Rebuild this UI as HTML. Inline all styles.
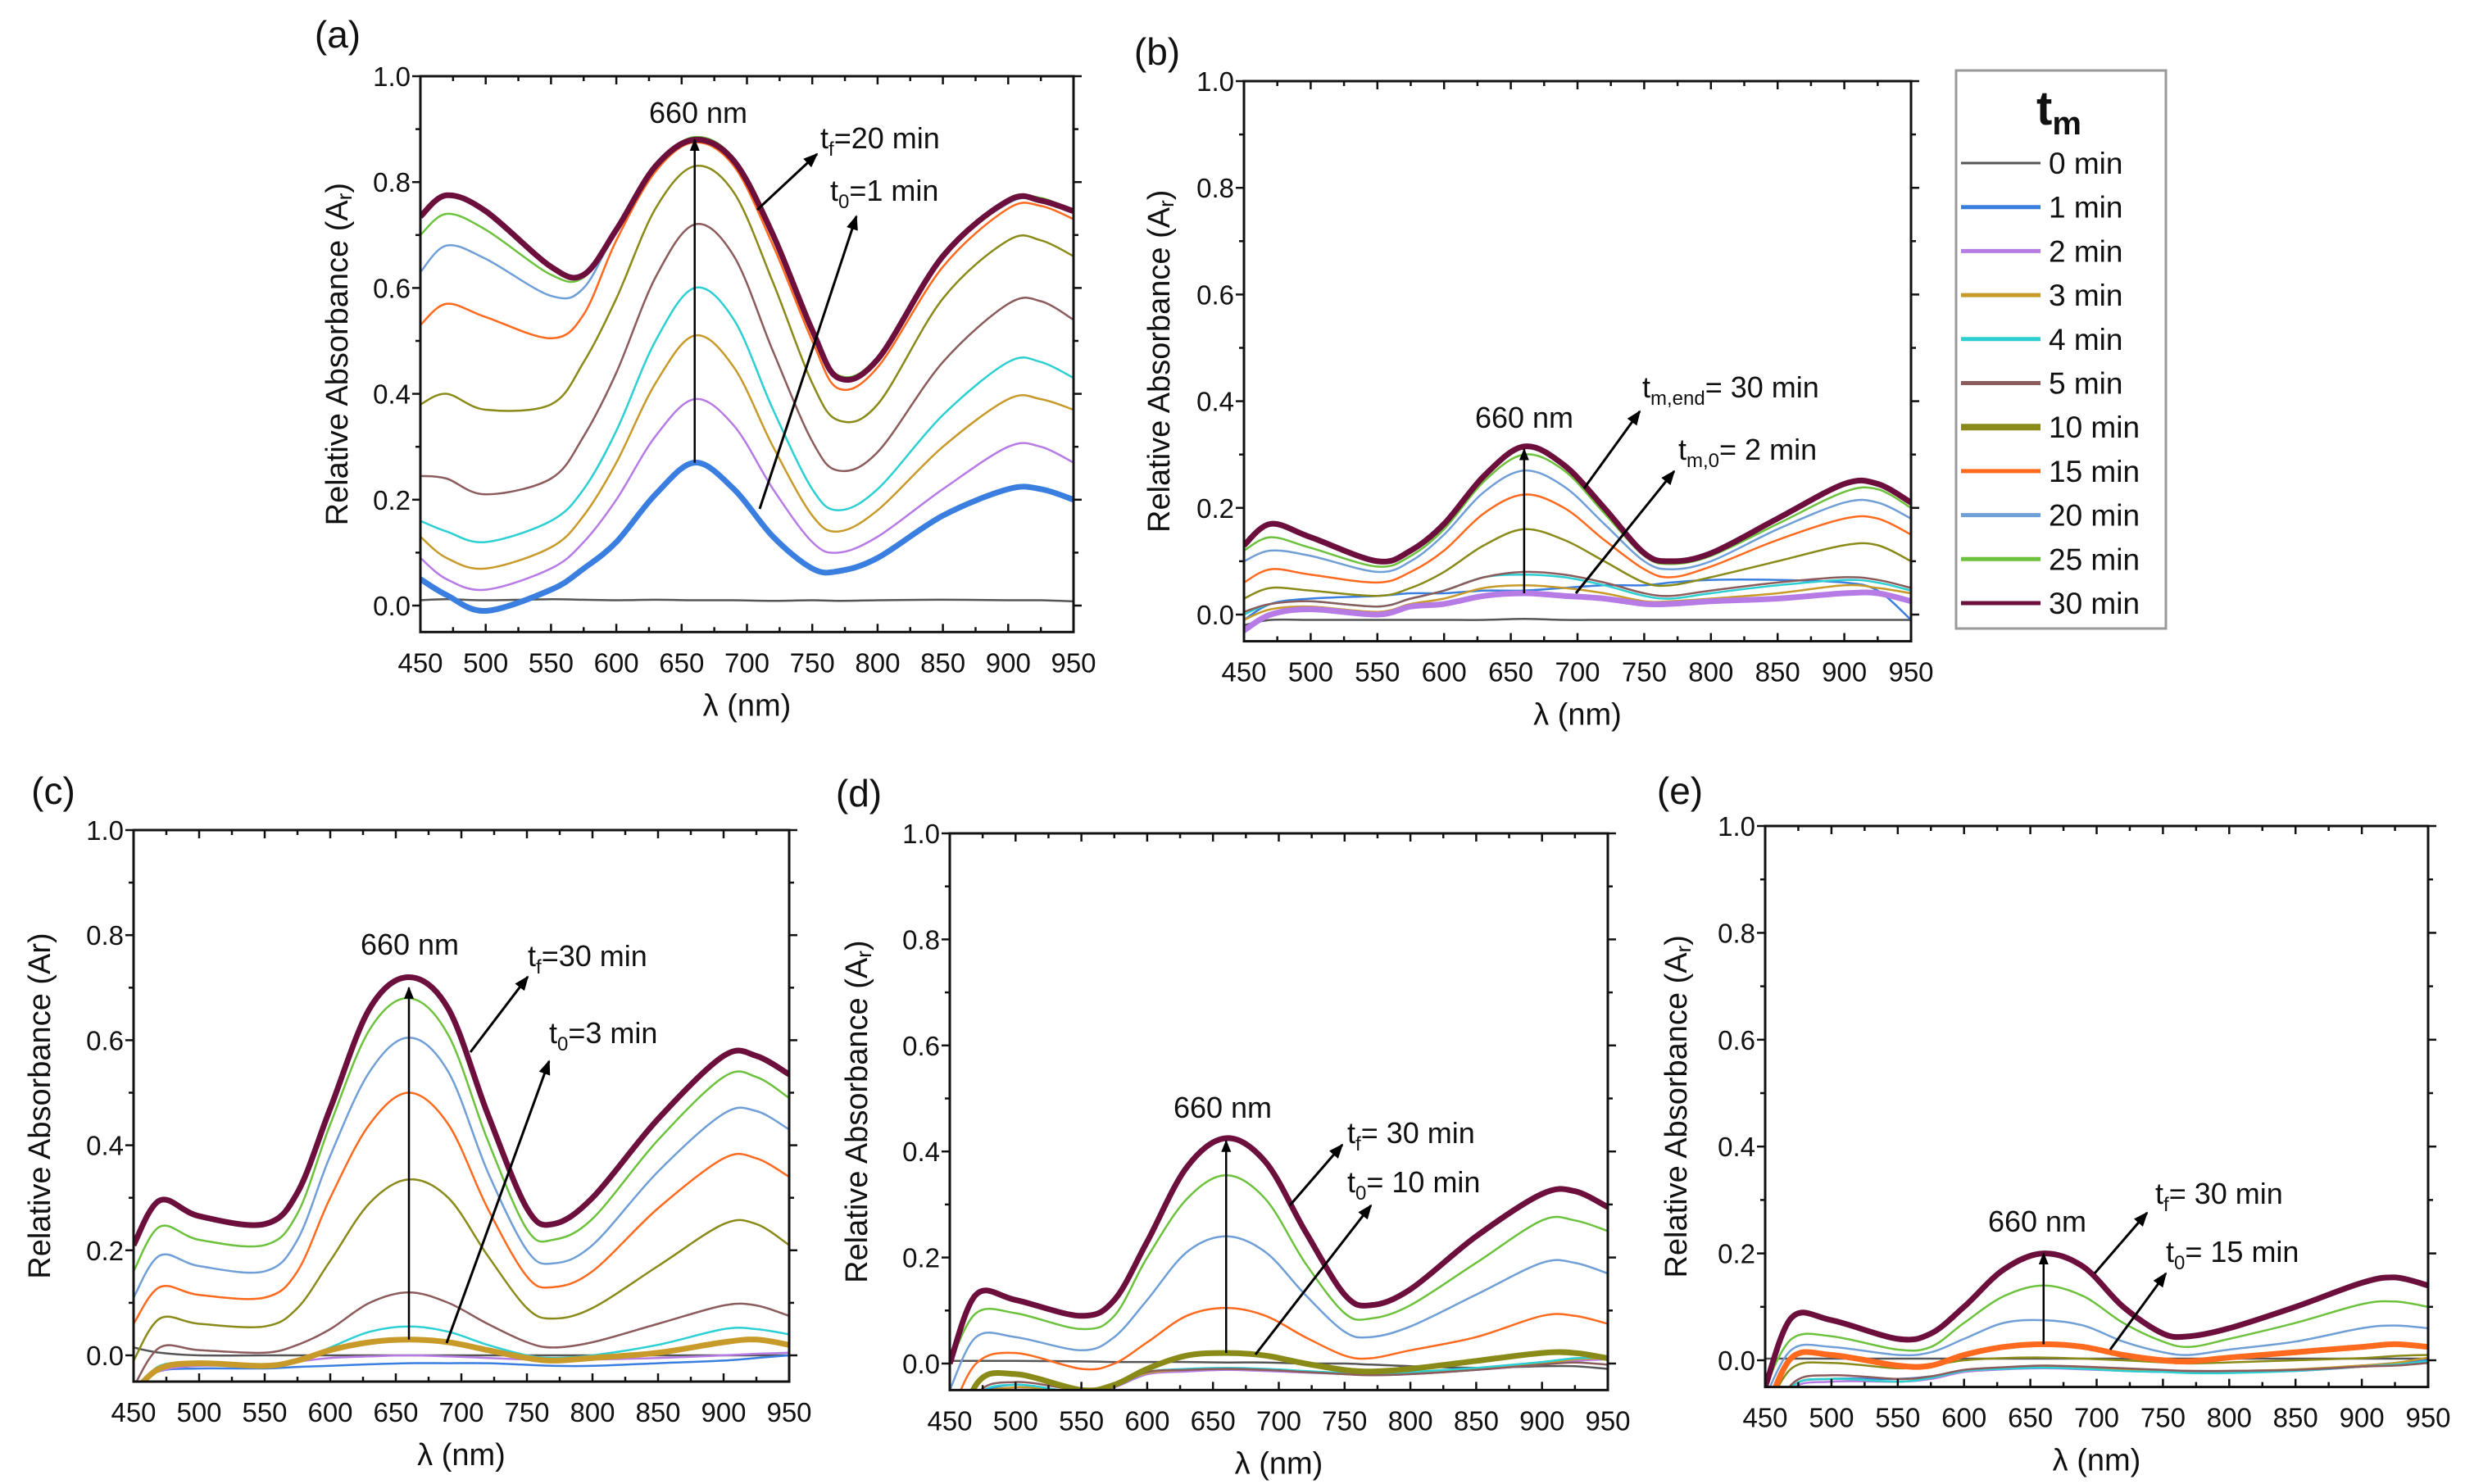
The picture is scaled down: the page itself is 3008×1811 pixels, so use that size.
<!DOCTYPE html>
<html><head><meta charset="utf-8"><style>
html,body{margin:0;padding:0;background:#fff;}
svg{display:block;font-family:"Liberation Sans",Arial,sans-serif;}
</style></head><body>
<svg id="fig" width="3008" height="1811" viewBox="0 0 3008 1811" xmlns="http://www.w3.org/2000/svg">
<defs><marker id="ah" viewBox="0 0 10 10" refX="9" refY="5" markerWidth="6" markerHeight="6" orient="auto"><path d="M0,1 L10,5 L0,9 z" fill="#000"/></marker></defs>
</svg>
<script>
const wavelengths=[450,470,500,550,575,600,630,660,690,720,750,770,800,850,900,925,950];
const seriesLabels=["0 min","1 min","2 min","3 min","4 min","5 min","10 min","15 min","20 min","25 min","30 min"];
const seriesColors=["#555555","#3a7fe0","#b77be6","#c89a2a","#2ccfd2","#8c5b5b","#8a8a18","#ff6a1e","#6f9fd6","#6cc23c","#6c0f3c"];
const xTicks=[450,500,550,600,650,700,750,800,850,900,950];
const yTicks=[0.0,0.2,0.4,0.6,0.8,1.0];
const yTickLabels=["0.0","0.2","0.4","0.6","0.8","1.0"];

const panelA=[
[0.01,0.012,0.01,0.012,0.011,0.01,0.011,0.01,0.01,0.009,0.01,0.009,0.01,0.011,0.01,0.01,0.008],
[0.05,0.02,-0.01,0.03,0.07,0.12,0.21,0.27,0.22,0.13,0.07,0.065,0.09,0.17,0.22,0.22,0.20],
[0.09,0.05,0.03,0.07,0.12,0.20,0.32,0.39,0.34,0.22,0.12,0.10,0.13,0.22,0.30,0.30,0.27],
[0.13,0.09,0.07,0.11,0.17,0.27,0.42,0.51,0.45,0.30,0.17,0.14,0.18,0.30,0.39,0.39,0.37],
[0.16,0.14,0.12,0.16,0.22,0.33,0.50,0.60,0.54,0.37,0.22,0.18,0.22,0.36,0.46,0.46,0.43],
[0.245,0.24,0.21,0.24,0.32,0.44,0.62,0.72,0.66,0.48,0.31,0.255,0.29,0.46,0.57,0.575,0.54],
[0.38,0.40,0.37,0.38,0.46,0.58,0.75,0.83,0.78,0.61,0.42,0.35,0.38,0.58,0.69,0.69,0.66],
[0.53,0.57,0.545,0.505,0.55,0.69,0.82,0.875,0.83,0.68,0.50,0.41,0.45,0.64,0.75,0.755,0.73],
[0.63,0.68,0.655,0.585,0.60,0.71,0.83,0.88,0.84,0.70,0.52,0.43,0.47,0.66,0.76,0.765,0.745],
[0.70,0.74,0.71,0.625,0.62,0.71,0.83,0.885,0.845,0.705,0.525,0.435,0.47,0.665,0.765,0.77,0.745],
[0.735,0.775,0.745,0.64,0.625,0.71,0.83,0.88,0.84,0.70,0.52,0.43,0.465,0.66,0.765,0.765,0.745]];
const panelB=[
[-0.02,-0.01,-0.01,-0.01,-0.01,-0.01,-0.01,-0.008,-0.01,-0.01,-0.01,-0.01,-0.01,-0.01,-0.01,-0.01,-0.01],
[-0.01,0.02,0.03,0.035,0.04,0.04,0.045,0.045,0.05,0.055,0.055,0.06,0.065,0.065,0.06,0.045,-0.01],
[-0.03,0.0,0.01,0.0,0.015,0.02,0.035,0.04,0.035,0.03,0.02,0.02,0.025,0.03,0.04,0.04,0.025],
[-0.01,0.01,0.015,0.005,0.02,0.03,0.05,0.055,0.05,0.04,0.025,0.025,0.03,0.04,0.055,0.05,0.04],
[0.0,0.02,0.025,0.015,0.03,0.045,0.07,0.075,0.07,0.055,0.035,0.03,0.04,0.055,0.065,0.06,0.045],
[0.005,0.02,0.025,0.015,0.03,0.045,0.07,0.08,0.075,0.06,0.04,0.035,0.045,0.06,0.07,0.065,0.05],
[0.03,0.05,0.045,0.035,0.05,0.08,0.13,0.16,0.14,0.10,0.06,0.055,0.07,0.10,0.13,0.13,0.10],
[0.06,0.085,0.075,0.06,0.08,0.12,0.19,0.225,0.20,0.14,0.085,0.07,0.09,0.14,0.18,0.18,0.15],
[0.10,0.12,0.11,0.08,0.10,0.15,0.23,0.27,0.24,0.17,0.10,0.085,0.10,0.16,0.21,0.21,0.18],
[0.12,0.145,0.125,0.09,0.11,0.16,0.25,0.30,0.27,0.19,0.11,0.095,0.11,0.17,0.23,0.235,0.20],
[0.13,0.17,0.145,0.10,0.12,0.17,0.26,0.315,0.28,0.20,0.115,0.10,0.115,0.18,0.245,0.245,0.21]];
const panelC=[
[0.015,0.005,0.0,0.0,0.0,0.0,0.0,0.0,0.0,0.0,0.0,0.0,0.0,0.0,0.0,0.0,0.0],
[-0.06,-0.03,-0.025,-0.025,-0.022,-0.02,-0.017,-0.015,-0.015,-0.015,-0.018,-0.02,-0.02,-0.015,-0.01,-0.005,0.0],
[-0.06,-0.03,-0.02,-0.02,-0.012,-0.005,-0.002,0.0,-0.002,-0.005,-0.008,-0.01,-0.008,-0.005,0.0,0.003,0.005],
[-0.07,-0.025,-0.015,-0.02,-0.01,0.01,0.025,0.03,0.025,0.01,-0.005,-0.01,-0.005,0.005,0.025,0.03,0.02],
[-0.07,-0.02,-0.015,-0.02,-0.01,0.015,0.045,0.055,0.045,0.02,0.0,-0.005,0.0,0.02,0.05,0.05,0.04],
[-0.06,0.015,0.01,0.005,0.02,0.05,0.10,0.12,0.10,0.06,0.025,0.015,0.025,0.06,0.095,0.095,0.075],
[-0.01,0.07,0.06,0.055,0.09,0.18,0.29,0.335,0.30,0.19,0.09,0.07,0.09,0.17,0.25,0.25,0.21],
[0.06,0.13,0.115,0.11,0.16,0.30,0.44,0.50,0.44,0.28,0.15,0.13,0.16,0.28,0.375,0.375,0.34],
[0.11,0.19,0.17,0.16,0.22,0.38,0.54,0.605,0.54,0.35,0.20,0.175,0.21,0.35,0.46,0.465,0.43],
[0.16,0.245,0.22,0.21,0.27,0.44,0.62,0.68,0.61,0.41,0.24,0.22,0.26,0.41,0.53,0.53,0.49],
[0.21,0.295,0.265,0.25,0.31,0.47,0.66,0.72,0.66,0.46,0.28,0.25,0.30,0.45,0.57,0.57,0.535]];
const panelD=[
[0.005,0.005,0.005,0.004,0.003,0.003,0.003,0.002,0.002,0.0,0.0,-0.002,-0.005,-0.008,-0.005,-0.005,-0.01],
[-0.2,-0.07,-0.04,-0.06,-0.045,-0.02,-0.012,-0.01,-0.012,-0.015,-0.018,-0.02,-0.018,-0.01,0.0,0.005,0.01],
[-0.2,-0.08,-0.05,-0.06,-0.045,-0.02,-0.015,-0.012,-0.014,-0.017,-0.02,-0.022,-0.02,-0.012,-0.002,0.005,0.008],
[-0.2,-0.07,-0.045,-0.055,-0.04,-0.018,-0.012,-0.01,-0.012,-0.015,-0.02,-0.02,-0.018,-0.01,0.0,0.008,0.01],
[-0.2,-0.065,-0.04,-0.055,-0.04,-0.016,-0.01,-0.008,-0.01,-0.014,-0.018,-0.02,-0.016,-0.008,0.003,0.01,0.012],
[-0.2,-0.06,-0.035,-0.05,-0.04,-0.016,-0.012,-0.01,-0.012,-0.016,-0.02,-0.022,-0.02,-0.012,-0.002,0.002,-0.002],
[-0.2,-0.04,-0.02,-0.05,-0.04,-0.01,0.015,0.02,0.015,0.0,-0.012,-0.015,-0.01,0.005,0.02,0.02,0.01],
[-0.1,0.0,0.02,-0.01,0.0,0.04,0.09,0.105,0.09,0.05,0.015,0.01,0.025,0.05,0.09,0.09,0.075],
[-0.05,0.05,0.05,0.025,0.05,0.12,0.21,0.24,0.21,0.13,0.06,0.05,0.07,0.13,0.19,0.19,0.17],
[0.0,0.095,0.095,0.065,0.09,0.20,0.31,0.355,0.31,0.19,0.095,0.085,0.11,0.19,0.27,0.27,0.25],
[0.0,0.13,0.12,0.09,0.12,0.23,0.37,0.425,0.38,0.25,0.13,0.11,0.14,0.24,0.32,0.325,0.295]];
const panelE=[
[0.003,0.003,0.003,0.003,0.003,0.003,0.003,0.003,0.003,0.003,0.003,0.003,0.003,0.003,0.003,0.003,0.003],
[-0.15,-0.05,-0.035,-0.035,-0.03,-0.02,-0.015,-0.012,-0.014,-0.018,-0.02,-0.02,-0.02,-0.018,-0.01,-0.005,0.0],
[-0.15,-0.055,-0.04,-0.04,-0.035,-0.022,-0.017,-0.015,-0.017,-0.02,-0.022,-0.022,-0.022,-0.02,-0.012,-0.008,-0.003],
[-0.15,-0.05,-0.035,-0.04,-0.032,-0.02,-0.015,-0.013,-0.015,-0.018,-0.02,-0.02,-0.02,-0.017,-0.01,-0.005,0.005],
[-0.15,-0.05,-0.035,-0.04,-0.033,-0.02,-0.016,-0.014,-0.016,-0.02,-0.022,-0.024,-0.024,-0.02,-0.012,-0.008,-0.002],
[-0.15,-0.045,-0.028,-0.035,-0.03,-0.018,-0.013,-0.01,-0.012,-0.015,-0.018,-0.02,-0.02,-0.018,-0.012,-0.01,-0.005],
[-0.1,-0.015,-0.005,-0.015,-0.01,0.0,0.004,0.005,0.003,0.0,-0.004,-0.006,-0.004,0.0,0.004,0.008,0.01],
[-0.1,0.005,0.01,-0.01,-0.01,0.01,0.025,0.03,0.025,0.01,0.0,-0.002,0.005,0.015,0.025,0.03,0.025],
[-0.07,0.02,0.025,0.01,0.015,0.04,0.07,0.075,0.065,0.035,0.015,0.01,0.02,0.035,0.06,0.065,0.06],
[-0.05,0.04,0.045,0.02,0.025,0.07,0.12,0.14,0.12,0.07,0.035,0.025,0.04,0.07,0.105,0.11,0.10],
[-0.05,0.08,0.075,0.04,0.05,0.10,0.17,0.20,0.175,0.10,0.05,0.045,0.06,0.10,0.145,0.155,0.14]];

const NS="http://www.w3.org/2000/svg";
const svg=document.getElementById('fig');
function mk(tag,attrs,parent){const e=document.createElementNS(NS,tag);for(const k in attrs)e.setAttribute(k,attrs[k]);(parent||svg).appendChild(e);return e;}

const panels=[
 {id:'a',data:panelA,L:513,R:1310,T:93,Z:739,thick:[1,10],lab:[412,42],ytx:414,
  yt:"Relative Absorbance (A",ysub:"r",arrows:[[924,256,997,188],[927,621,1045,264]],
  vline:[0.27,0.88],t660:[852,138],tf:[1001,169,"f","=20 min"],t0:[1013,233,"0","=1 min"]},
 {id:'b',data:panelB,L:1518,R:2332,T:99,Z:750,thick:[2,10],lab:[1412,63],ytx:1417,
  yt:"Relative Absorbance (A",ysub:"r",arrows:[[1933,596,2001,502],[1923,724,2043,575]],
  vline:[0.04,0.31],t660:[1860,510],tf:[2004,473,"m,end","= 30 min"],t0:[2048,549,"m,0","= 2 min"]},
 {id:'c',data:panelC,L:163,R:963,T:1013,Z:1654,thick:[3,10],lab:[65,965],ytx:51,
  yt:"Relative Absorbance (Ar)",ysub:"",arrows:[[574,1284,644,1192],[545,1639,670,1295]],
  vline:[0.03,0.70],t660:[500,1153],tf:[644,1167,"f","=30 min"],t0:[670,1261,"0","=3 min"]},
 {id:'d',data:panelD,L:1159,R:1962,T:1017,Z:1664,thick:[6,10],lab:[1048,968],ytx:1048,
  yt:"Relative Absorbance (A",ysub:"r",arrows:[[1574,1471,1638,1397],[1532,1653,1673,1471]],
  vline:[0.02,0.42],t660:[1492,1352],tf:[1644,1383,"f","= 30 min"],t0:[1644,1443,"0","= 10 min"]},
 {id:'e',data:panelE,L:2154,R:2963,T:1008,Z:1660,thick:[7,10],lab:[2050,965],ytx:2048,
  yt:"Relative Absorbance (A",ysub:"r",arrows:[[2556,1554,2620,1480],[2575,1647,2643,1554]],
  vline:[0.03,0.20],t660:[2486,1491],tf:[2630,1457,"f","= 30 min"],t0:[2643,1528,"0","= 15 min"]}
];

function spline(pts){
 let d="M"+pts[0][0].toFixed(1)+","+pts[0][1].toFixed(1);
 for(let i=0;i<pts.length-1;i++){
  const p0=pts[Math.max(0,i-1)],p1=pts[i],p2=pts[i+1],p3=pts[Math.min(pts.length-1,i+2)];
  const c1=[p1[0]+(p2[0]-p0[0])/6,p1[1]+(p2[1]-p0[1])/6];
  const c2=[p2[0]-(p3[0]-p1[0])/6,p2[1]-(p3[1]-p1[1])/6];
  d+=" C"+c1[0].toFixed(1)+","+c1[1].toFixed(1)+" "+c2[0].toFixed(1)+","+c2[1].toFixed(1)+" "+p2[0].toFixed(1)+","+p2[1].toFixed(1);
 }
 return d;
}

panels.forEach(p=>{
 const g=mk('g',{});
 
 
 const unit=p.Z-p.T;
 const B=p.Z+0.05*unit;
 const xs=v=>p.L+(v-450)/500*(p.R-p.L);
 const ys=v=>p.Z-v*unit;
 const cp=mk('clipPath',{id:'clip'+p.id},g);
 mk('rect',{x:p.L,y:p.T,width:p.R-p.L,height:B-p.T},cp);
 const order=[];
 for(let i=0;i<p.data.length;i++) if(!p.thick.includes(i)) order.push(i);
 p.thick.forEach(i=>order.push(i));
 const sg=mk('g',{'clip-path':'url(#clip'+p.id+')'},g);
 order.forEach(i=>{
  const pts=wavelengths.map((w,k)=>[xs(w),ys(p.data[i][k])]);
  const path=mk('path',{d:spline(pts),fill:'none',stroke:seriesColors[i],'stroke-width':p.thick.includes(i)?7:2.5,'stroke-linejoin':'round'},sg);
  
  
 });
 const fr=mk('rect',{x:p.L,y:p.T,width:p.R-p.L,height:B-p.T,fill:'none',stroke:'#111','stroke-width':3},g);
 
 
 for(let v=450;v<=950;v+=25){
  const x=xs(v),len=(v%50===0)?10:6;
  mk('line',{x1:x,y1:B,x2:x,y2:B-len,stroke:'#111','stroke-width':2.5},g);
  mk('line',{x1:x,y1:p.T,x2:x,y2:p.T+len,stroke:'#111','stroke-width':2.5},g);
 }
 xTicks.forEach(v=>{
  const t=mk('text',{x:xs(v),y:B+49,'font-size':33,'text-anchor':'middle',fill:'#111'},g);
  t.textContent=v;
  
  
 });
 for(let k=0;k<=10;k++){
  const v=k/10,y=ys(v),len=(k%2===0)?10:6;
  mk('line',{x1:p.L,y1:y,x2:p.L-len,y2:y,stroke:'#111','stroke-width':2.5},g);
  mk('line',{x1:p.R,y1:y,x2:p.R+len,y2:y,stroke:'#111','stroke-width':2.5},g);
 }
 yTicks.forEach((v,k)=>{
  const t=mk('text',{x:p.L-12,y:ys(v)+12,'font-size':33,'text-anchor':'end',fill:'#111'},g);
  t.textContent=yTickLabels[k];
  
  
 });
 const xt=mk('text',{x:(p.L+p.R)/2,y:B+102,'font-size':38,'text-anchor':'middle',fill:'#111'},g);
 xt.textContent="λ (nm)";
 
 
 const yc=(p.T+B)/2;
 const yt=mk('text',{x:p.ytx,y:yc,'font-size':38,'text-anchor':'middle','dominant-baseline':'middle',fill:'#111',transform:'rotate(-90 '+p.ytx+' '+yc+')'},g);
 
 
 if(p.ysub){
  const a=mk('tspan',{},yt);a.textContent=p.yt;
  const s=mk('tspan',{'font-size':26,dy:8},yt);s.textContent=p.ysub;
  const c=mk('tspan',{dy:-8},yt);c.textContent=")";
 } else yt.textContent=p.yt;
 const pl=mk('text',{x:p.lab[0],y:p.lab[1]+16,'font-size':46,'text-anchor':'middle',fill:'#111'},g);
 pl.textContent="("+p.id+")";
 
 
 const va=mk('line',{x1:xs(660),y1:ys(p.vline[0]),x2:xs(660),y2:ys(p.vline[1]),stroke:'#000','stroke-width':2.5,'marker-end':'url(#ah)'},g);
 
 
 p.arrows.forEach(a=>{
  const l=mk('line',{x1:a[0],y1:a[1],x2:a[2],y2:a[3],stroke:'#000','stroke-width':3,'marker-end':'url(#ah)'},g);
  
  
 });
 const t6=mk('text',{x:p.t660[0],y:p.t660[1]+12,'font-size':36,'text-anchor':'middle',fill:'#111'},g);
 t6.textContent="660 nm";
 
 
 [p.tf,p.t0].forEach((a,idx)=>{
  const t=mk('text',{x:a[0],y:a[1]+12,'font-size':36,fill:'#111'},g);
  
  
  const t1=mk('tspan',{},t);t1.textContent="t";
  const t2=mk('tspan',{'font-size':24,dy:9},t);t2.textContent=a[2];
  const t3=mk('tspan',{dy:-9},t);t3.textContent=a[3];
 });
});

const lg=mk('g',{});


mk('rect',{x:2387,y:86,width:256,height:681,fill:'#fff',stroke:'#9a9a9a','stroke-width':3},lg);
const lt=mk('text',{x:2485,y:152,'font-size':58,'font-weight':'bold',fill:'#111'},lg);


const l1=mk('tspan',{},lt);l1.textContent="t";
const l2=mk('tspan',{'font-size':40,dy:12},lt);l2.textContent="m";
seriesLabels.forEach((s,i)=>{
 const y=199+i*53.7;
 const ln=mk('line',{x1:2393,y1:y,x2:2490,y2:y,stroke:seriesColors[i],'stroke-width':(i===6)?8:(i===0?3:5)},lg);
 
 
 const t=mk('text',{x:2500,y:y+13,'font-size':37,fill:'#111'},lg);
 t.textContent=s;
 
 
});
</script>
</body></html>
